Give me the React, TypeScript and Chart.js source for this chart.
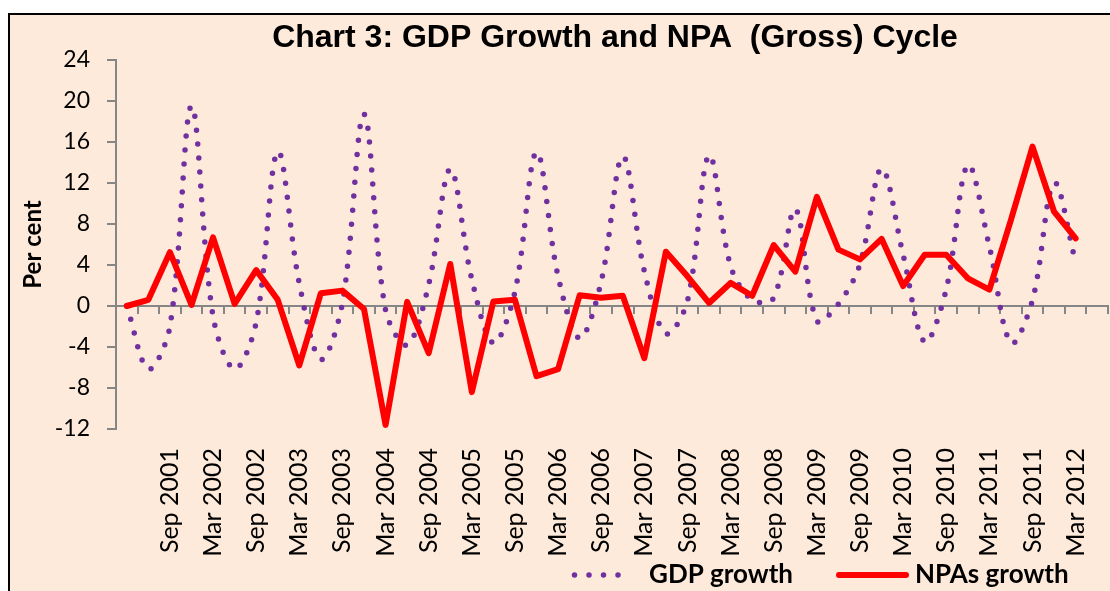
import React, { useEffect, useRef } from 'react';
import { Chart, registerables } from 'chart.js';

Chart.register(...registerables);

// ---- data ----
const quarters: string[] = [
  'Mar 2001', 'Jun 2001', 'Sep 2001', 'Dec 2001',
  'Mar 2002', 'Jun 2002', 'Sep 2002', 'Dec 2002',
  'Mar 2003', 'Jun 2003', 'Sep 2003', 'Dec 2003',
  'Mar 2004', 'Jun 2004', 'Sep 2004', 'Dec 2004',
  'Mar 2005', 'Jun 2005', 'Sep 2005', 'Dec 2005',
  'Mar 2006', 'Jun 2006', 'Sep 2006', 'Dec 2006',
  'Mar 2007', 'Jun 2007', 'Sep 2007', 'Dec 2007',
  'Mar 2008', 'Jun 2008', 'Sep 2008', 'Dec 2008',
  'Mar 2009', 'Jun 2009', 'Sep 2009', 'Dec 2009',
  'Mar 2010', 'Jun 2010', 'Sep 2010', 'Dec 2010',
  'Mar 2011', 'Jun 2011', 'Sep 2011', 'Dec 2011',
  'Mar 2012', 'Jun 2012',
];

const shownTicks: string[] = [
  'Sep 2001', 'Mar 2002', 'Sep 2002', 'Mar 2003', 'Sep 2003', 'Mar 2004',
  'Sep 2004', 'Mar 2005', 'Sep 2005', 'Mar 2006', 'Sep 2006', 'Mar 2007',
  'Sep 2007', 'Mar 2008', 'Sep 2008', 'Mar 2009', 'Sep 2009', 'Mar 2010',
  'Sep 2010', 'Mar 2011', 'Sep 2011', 'Mar 2012',
];

const gdpGrowth: (number | null)[] = [
  0, -6.15, -2.0, 19.5, -1.0, -6.15, -1.6, 15.05, 2.2, -5.2,
  0.3, 18.7, -0.4, -3.8, 2.1, 13.35, 2.6, -3.6, 1.4, 15.0,
  2.9, -3.15, 2.4, 14.6, 3.4, -2.7, 0.5, 14.7, 3.9, 0.6,
  0.8, 9.45, -1.45, 0.2, 4.1, 13.4, 5.0, -3.5, 1.65, 13.75,
  5.8, -3.6, 0.6, 12.0, 4.3, null,
];

const npaGrowth: (number | null)[] = [
  0, 0.6, 5.25, 0.1, 6.7, 0.2, 3.5, 0.6, -5.8, 1.25,
  1.5, -0.3, -11.6, 0.4, -4.6, 4.1, -8.4, 0.45, 0.6, -6.85,
  -6.15, 1.05, 0.8, 1.0, -5.1, 5.3, 2.9, 0.3, 2.25, 1.0,
  5.95, 3.35, 10.65, 5.5, 4.55, 6.55, 1.95, 5.0, 5.0, 2.7,
  1.6, 8.4, 15.55, 9.2, 6.6, null,
];

const seriesLabels = ['GDP growth', 'NPAs growth'];
const chartTitle = 'Chart 3: GDP Growth and NPA  (Gross) Cycle';
const yAxisTitle = 'Per cent';
const yMin = -12;
const yMax = 24;
const yStep = 4;

// ---- styles ----
const PURPLE = '#7030A0';
const RED = '#FF0000';
const AXIS_GREY = '#868686';

const titlePlugin = {
  id: 'fixedTitle',
  afterDraw(chart: any, _args: any, opts: any) {
    const { ctx } = chart;
    ctx.save();
    ctx.font = opts.font;
    ctx.fillStyle = opts.color;
    ctx.textAlign = 'center';
    ctx.textBaseline = 'middle';
    ctx.fillText(opts.text, opts.x, opts.y);
    ctx.restore();
  },
};

const legendPlugin = {
  id: 'fixedLegend',
  afterDraw(chart: any, _args: any, opts: any) {
    const { ctx } = chart;
    chart.data.datasets.forEach((ds: any, i: number) => {
      const it = opts.items[i];
      ctx.save();
      ctx.strokeStyle = ds.borderColor;
      ctx.lineWidth = ds.borderWidth;
      ctx.lineCap = 'round';
      ctx.setLineDash(it.dash);
      ctx.beginPath();
      ctx.moveTo(it.x0, opts.y);
      ctx.lineTo(it.x1, opts.y);
      ctx.stroke();
      ctx.setLineDash([]);
      ctx.fillStyle = opts.color;
      ctx.font = opts.font;
      ctx.textAlign = 'left';
      ctx.textBaseline = 'middle';
      ctx.fillText(ds.label, it.textX, opts.y);
      ctx.restore();
    });
  },
};

export default function App() {
  const ref = useRef<HTMLCanvasElement | null>(null);

  useEffect(() => {
    if (!ref.current) return;
    const chart = new Chart(ref.current, {
      type: 'line',
      data: {
        labels: quarters,
        datasets: [
          {
            label: seriesLabels[0],
            data: gdpGrowth,
            borderColor: PURPLE,
            backgroundColor: PURPLE,
            borderWidth: 5.5,
            borderDash: [0, 14],
            borderCapStyle: 'round',
            borderJoinStyle: 'round',
            tension: 0.35,
            pointRadius: 0,
            pointHoverRadius: 0,
            fill: false,
            order: 2,
            xAxisID: 'x',
            yAxisID: 'y',
          },
          {
            label: seriesLabels[1],
            data: npaGrowth,
            borderColor: RED,
            backgroundColor: RED,
            borderWidth: 6,
            borderCapStyle: 'round',
            borderJoinStyle: 'round',
            tension: 0,
            pointRadius: 0,
            pointHoverRadius: 0,
            fill: false,
            order: 1,
            xAxisID: 'x',
            yAxisID: 'y',
          },
        ] as any,
      },
      plugins: [titlePlugin, legendPlugin],
      options: {
        responsive: false,
        animation: false,
        devicePixelRatio: 1,
        layout: {
          autoPadding: false,
          padding: { left: 0, right: 2, top: 45, bottom: 0 },
        },
        scales: {
          y: {
            type: 'linear',
            position: 'left',
            min: yMin,
            max: yMax,
            ticks: {
              stepSize: yStep,
              color: '#000',
              padding: 17,
              font: { family: 'Lato', size: 23 },
            },
            grid: {
              drawOnChartArea: false,
              drawTicks: true,
              tickLength: 9,
              color: AXIS_GREY,
              lineWidth: 2,
            },
            border: { display: true, color: AXIS_GREY, width: 2 },
            title: {
              display: true,
              text: yAxisTitle,
              color: '#000',
              font: { family: 'Lato', size: 24, weight: 'bold' },
              padding: { top: 9, bottom: 0 },
            },
            afterFit: (s: any) => {
              s.width = 106;
            },
          },
          x: {
            type: 'category',
            position: { y: 0 } as any,
            offset: true,
            ticks: { display: false },
            grid: {
              offset: true,
              drawOnChartArea: false,
              drawTicks: true,
              tickLength: 7,
              color: AXIS_GREY,
              lineWidth: 2,
            },
            border: { display: true, color: AXIS_GREY, width: 2 },
            afterFit: (s: any) => {
              s.paddingLeft = 0;
              s.paddingRight = 0;
            },
          },
          x2: {
            type: 'category',
            position: 'bottom',
            offset: true,
            ticks: {
              autoSkip: false,
              minRotation: 90,
              maxRotation: 90,
              padding: 19,
              color: '#000',
              font: { family: 'Lato', size: 25 },
              callback: function (this: any, value: any) {
                const l = this.getLabelForValue(value);
                return shownTicks.includes(l) ? l : '';
              },
            },
            grid: { display: false, drawTicks: false },
            border: { display: false },
            afterFit: (s: any) => {
              s.height = 162;
              s.paddingLeft = 0;
              s.paddingRight = 0;
            },
          },
        } as any,
        plugins: {
          legend: { display: false },
          tooltip: { enabled: false },
          fixedTitle: {
            text: chartTitle,
            x: 605,
            y: 23,
            font: 'bold 32px "Liberation Sans", Arial, sans-serif',
            color: '#000',
          },
          fixedLegend: {
            y: 560,
            color: '#000',
            font: 'bold 26px Lato, sans-serif',
            items: [
              { x0: 564.5, x1: 622.5, dash: [0, 14.5], textX: 639 },
              { x0: 829, x1: 896, dash: [], textX: 905 },
            ],
          },
        } as any,
      },
    });
    return () => chart.destroy();
  }, []);

  return (
    <div
      style={{
        position: 'fixed',
        left: 8,
        top: 13,
        width: 1102,
        height: 578,
        boxSizing: 'border-box',
        borderLeft: '2px solid #000',
        borderTop: '2px solid #000',
        background: '#FDEADA',
        overflow: 'hidden',
      }}
    >
      <canvas ref={ref} width={1100} height={576} style={{ display: 'block' }} />
    </div>
  );
}
